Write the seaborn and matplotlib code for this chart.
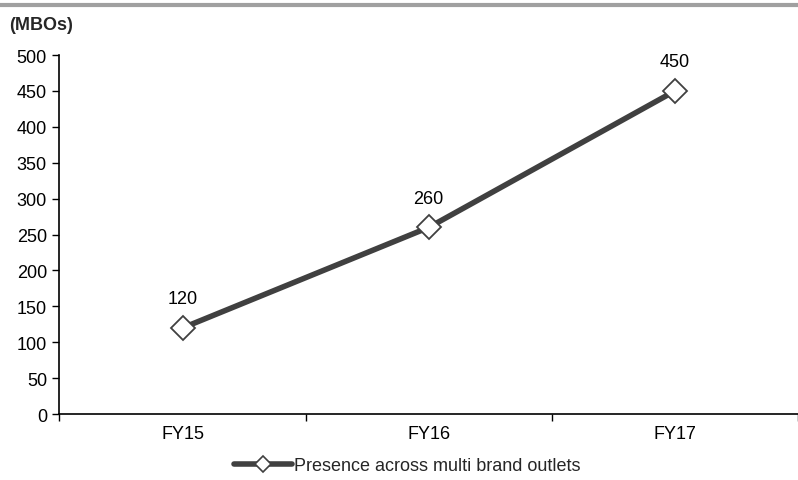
import matplotlib
matplotlib.use("Agg")
import matplotlib.pyplot as plt
import seaborn as sns
import pandas as pd
from matplotlib.lines import Line2D

years = ["FY15", "FY16", "FY17"]
values = [120, 260, 450]
series_name = "Presence across multi brand outlets"
y_ticks = [0, 50, 100, 150, 200, 250, 300, 350, 400, 450, 500]

sns.set_theme(style="white")
plt.rcParams['font.family'] = ['Liberation Sans', 'DejaVu Sans']
FS = 13

df = pd.DataFrame({"year": years, "value": values, "series": series_name})
df["pos"] = range(len(years))

fig = plt.figure(figsize=(7.98, 4.81), dpi=100)
ax = fig.add_axes([0.0745, 0.137, 0.9255, 0.7464])

sns.lineplot(data=df, x="pos", y="value", ax=ax, color="#404040", linewidth=4,
             marker="D", markersize=12, markerfacecolor="white",
             markeredgecolor="#404040", markeredgewidth=1.3, legend=False)

for x, v in zip(df["pos"], values):
    ax.annotate(f"{v}", (x, v), xytext=(0, 15), textcoords="offset points",
                ha="center", va="bottom", fontsize=FS, color="black")

ax.set_xlim(-0.5, 2.5)
ax.set_ylim(0, 500)
ax.set_yticks(y_ticks)
ax.set_xticks(range(len(years)))
ax.set_xticklabels(years)
ax.set_xticks([-0.5, 0.5, 1.5, 2.5], minor=True)
ax.tick_params(axis="x", which="major", length=0, pad=8, labelsize=FS, colors="black")
ax.tick_params(axis="x", which="minor", length=5, width=1, direction="out", bottom=True, color="black")
ax.tick_params(axis="y", length=5, width=1, direction="out", left=True, pad=4, labelsize=FS, colors="black")
ax.set_xlabel("")
ax.set_ylabel("")
for s in ["top", "right"]:
    ax.spines[s].set_visible(False)
for s in ["left", "bottom"]:
    ax.spines[s].set_color("black")
    ax.spines[s].set_linewidth(1.2)

fig.text(0.012, 0.948, "(MBOs)", fontsize=FS, fontweight="bold", ha="left", va="center")
fig.add_artist(Line2D([0, 1], [0.988, 0.988], transform=fig.transFigure, color="#a0a0a0", linewidth=3))

handle = Line2D([], [], color="#404040", linewidth=4, marker="D", markersize=8,
                markerfacecolor="white", markeredgecolor="#404040", markeredgewidth=1.2)
fig.legend([handle], [series_name], loc="center", bbox_to_anchor=(0.51, 0.03),
           frameon=False, fontsize=FS, handlelength=3.2, handletextpad=0.1)

fig.savefig("out.png", dpi=100)
